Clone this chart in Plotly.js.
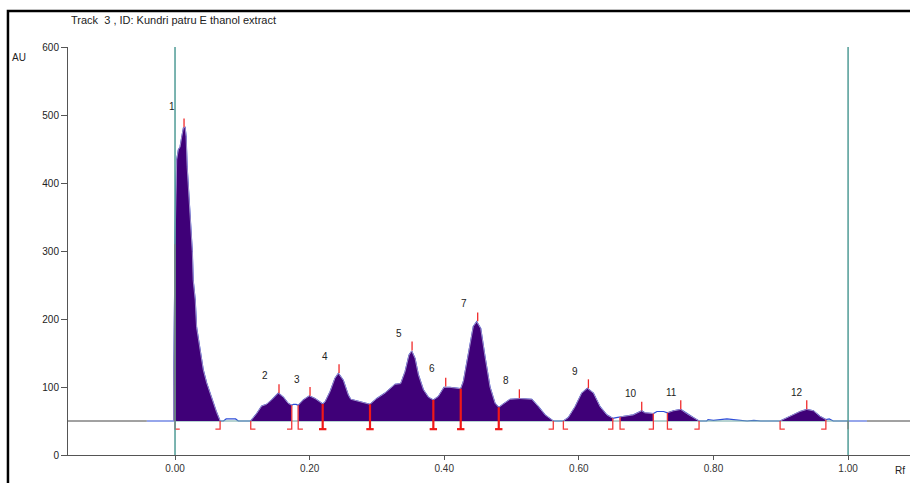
<!DOCTYPE html>
<html><head><meta charset="utf-8">
<script src="https://cdn.plot.ly/plotly-3.0.1.min.js"></script>
<style>html,body{margin:0;padding:0;background:#fff;} #chart{width:910px;height:483px;}</style>
</head><body><div id="chart"></div>
<script>
// ---- data ----
const baselineAU = 50;
const signalRf = [-0.042, -0.002, -0.002, 0.000, 0.001, 0.0025, 0.005, 0.0075, 0.010, 0.0125, 0.015, 0.0165, 0.018, 0.021, 0.023, 0.0257, 0.027, 0.030, 0.032, 0.035, 0.037, 0.042, 0.047, 0.052, 0.057, 0.062, 0.067,
  0.072, 0.076, 0.090, 0.094, 0.1125,
  0.1214, 0.1288, 0.136, 0.1436, 0.1535, 0.161, 0.168, 0.1734,
  0.176, 0.180, 0.183,
  0.1906, 0.1996, 0.208, 0.2155, 0.2194,
  0.2229, 0.2303, 0.2377, 0.2427, 0.250, 0.2575, 0.261, 0.275, 0.2897,
  0.2997, 0.312, 0.327, 0.3353, 0.3418, 0.3477, 0.3517, 0.3566, 0.3616, 0.369, 0.3764, 0.3838,
  0.3912, 0.3997, 0.4086, 0.4245,
  0.4284, 0.4358, 0.4432, 0.4482, 0.4542, 0.4606, 0.468, 0.4755, 0.481,
  0.4878, 0.4978, 0.5126, 0.530, 0.540, 0.5498, 0.562,
  0.577,
  0.5844, 0.5944, 0.6043, 0.6127, 0.6216, 0.6315, 0.6415, 0.6504,
  0.6555, 0.6612,
  0.681, 0.691, 0.6934, 0.698, 0.7107,
  0.716, 0.726, 0.7316,
  0.7405, 0.7514, 0.760, 0.770, 0.7786,
  0.790, 0.792, 0.800, 0.810, 0.820, 0.830, 0.840, 0.850, 0.860, 0.870, 0.899,
  0.9138, 0.9287, 0.9386, 0.9485, 0.958, 0.967,
  0.972, 0.978, 1.028];
const signalAu = [50, 50, 103, 310, 390, 434, 449, 453, 468, 481, 482, 468, 424, 375, 331, 299, 257, 228, 188, 169, 150, 125, 106, 91, 76, 62, 50,
  50, 53, 53, 50, 50,
  61, 72, 74.5, 81, 91, 85, 76, 73,
  74.5, 74.5, 73,
  81, 87, 83, 78, 75,
  78, 93, 113, 120, 110, 88, 82, 78, 74.5,
  83, 91, 104, 105, 122.5, 147, 153, 142, 118, 96, 85, 81,
  86, 99.5, 99.5, 97.5,
  108, 149.5, 189, 196, 186, 144.5, 100, 76, 70,
  75, 82, 83, 82, 71, 59, 50,
  50,
  55, 71, 91, 98, 91, 71, 59, 54,
  55, 56,
  59, 64, 65, 62, 61,
  64, 64, 62,
  65, 67, 61, 55, 50,
  50, 52, 51, 52, 53, 52, 51, 50, 51, 50, 50,
  57, 64, 67, 65, 57, 52,
  53, 50, 50];
// integrated (filled) ranges
const fillStart = [-0.002, 0.1125, 0.183, 0.577, 0.6612, 0.7316, 0.899];
const fillEnd   = [0.067, 0.1734, 0.562, 0.6504, 0.7107, 0.7786, 0.967];
// peaks
const peakNames = ['1','2','3','4','5','6','7','8','9','10','11','12'];
const peakRf = [0.0134, 0.1545, 0.2006, 0.2437, 0.3522, 0.4022, 0.4497, 0.5116, 0.6142, 0.6934, 0.7514, 0.9386];
const peakAu = [482, 91, 87, 120.5, 153.8, 100.7, 196.6, 83.6, 98.3, 65.4, 67.4, 67.4];
const labelRf = [-0.0045, 0.1337, 0.1813, 0.2229, 0.3328, 0.3819, 0.4294, 0.4918, 0.5944, 0.6776, 0.737, 0.9242];
const labelAu = [512, 116.5, 110.6, 144.5, 178.5, 126.8, 222.7, 109, 122.4, 90, 91.4, 91.4];
// peak boundaries: '[' start, ']' end, 'T' shared, '|' plain
const boundRf = [0.0, 0.067, 0.1125, 0.1734, 0.183, 0.2194, 0.2897, 0.3838, 0.4245, 0.481, 0.562, 0.577, 0.6504, 0.6612, 0.7107, 0.7316, 0.7786, 0.899, 0.967, 1.0];
const boundKind = ['[', ']', '[', ']', '[', 'T', 'T', 'T', 'T', 'T', ']', '[', ']', '[', ']', '[', ']', '[', ']', '|'];
const xTicks = [0, 0.2, 0.4, 0.6, 0.8, 1.0];
const yTicks = [0, 100, 200, 300, 400, 500, 600];

// ---- helpers ----
function interp(r) {
  for (let i = 0; i < signalRf.length - 1; i++) {
    if (r >= signalRf[i] && r <= signalRf[i + 1]) {
      const d = signalRf[i + 1] - signalRf[i];
      if (d === 0) return Math.max(signalAu[i], signalAu[i + 1]);
      return signalAu[i] + (signalAu[i + 1] - signalAu[i]) * (r - signalRf[i]) / d;
    }
  }
  return baselineAU;
}

const xRange = [-0.159, 1.092];
const FONT = 'Liberation Sans, Arial, sans-serif';
const traces = [];

// raw signal (blue)
traces.push({x: signalRf, y: signalAu, mode: 'lines', line: {color: '#2f4fd8', width: 1.2}, hoverinfo: 'skip', showlegend: false});
// baseline
traces.push({x: [xRange[0], signalRf[0], null, signalRf[signalRf.length - 1], xRange[1]],
  y: [baselineAU, baselineAU, null, baselineAU, baselineAU], mode: 'lines', line: {color: '#444', width: 1}, showlegend: false, hoverinfo: 'skip'});
traces.push({x: [0, 1], y: [baselineAU, baselineAU], mode: 'lines', line: {color: '#6fa8a3', width: 1.2}, showlegend: false, hoverinfo: 'skip'});

// filled peak areas
for (let k = 0; k < fillStart.length; k++) {
  const a = fillStart[k], b = fillEnd[k];
  const xs = [a], ys = [baselineAU];
  for (let i = 0; i < signalRf.length; i++) {
    if (signalRf[i] >= a && signalRf[i] <= b) { xs.push(signalRf[i]); ys.push(signalAu[i]); }
  }
  xs.push(b); ys.push(baselineAU);
  traces.push({x: xs, y: ys, mode: 'lines', fill: 'toself', fillcolor: '#3f0078',
    line: {color: '#9d8cc8', width: 1}, showlegend: false, hoverinfo: 'skip'});
}

// boundary markers
const footAu = 38;
const tX = [], tY = [], bX = [], bY = [];
for (let i = 0; i < boundRf.length; i++) {
  const r = boundRf[i], k = boundKind[i];
  const top = k === '|' ? baselineAU : interp(r);
  if (k === 'T') {
    tX.push(r, r, null, r - 0.0055, r + 0.0055, null);
    tY.push(top, footAu, null, footAu, footAu, null);
  } else if (k === '[') {
    bX.push(r, r, r + 0.007, null); bY.push(top, footAu, footAu, null);
  } else if (k === ']') {
    bX.push(r, r, r - 0.007, null); bY.push(top, footAu, footAu, null);
  } else {
    bX.push(r, r, null); bY.push(top, footAu, null);
  }
}
traces.push({x: bX, y: bY, mode: 'lines', line: {color: '#f23a3a', width: 1.3}, showlegend: false, hoverinfo: 'skip'});
traces.push({x: tX, y: tY, mode: 'lines', line: {color: '#f01818', width: 2.2}, showlegend: false, hoverinfo: 'skip'});

// peak maximum ticks
const pX = [], pY = [];
for (let i = 0; i < peakRf.length; i++) {
  pX.push(peakRf[i], peakRf[i], null);
  pY.push(peakAu[i], peakAu[i] + 13, null);
}
traces.push({x: pX, y: pY, mode: 'lines', line: {color: '#f02a2a', width: 1.3}, showlegend: false, hoverinfo: 'skip'});

const annotations = peakNames.map((t, i) => ({
  x: labelRf[i], y: labelAu[i], xref: 'x', yref: 'y', text: t, showarrow: false,
  xanchor: 'center', yanchor: 'middle', font: {family: FONT, size: 10, color: '#222'}
}));
annotations.push({x: 0.001, y: 1.066, xref: 'paper', yref: 'paper', text: 'Track  3 , ID: Kundri patru E thanol extract',
  showarrow: false, xanchor: 'left', yanchor: 'middle', font: {family: FONT, size: 11, color: '#222'}});
annotations.push({x: -0.069, y: 0.975, xref: 'paper', yref: 'paper', text: 'AU',
  showarrow: false, xanchor: 'left', yanchor: 'middle', font: {family: FONT, size: 10, color: '#222'}});
annotations.push({x: 0.996, y: -0.037, xref: 'paper', yref: 'paper', text: 'Rf',
  showarrow: false, xanchor: 'right', yanchor: 'middle', font: {family: FONT, size: 10, color: '#222'}});

const shapes = [
  {type: 'line', xref: 'x', yref: 'y', x0: 0, x1: 0, y0: 0, y1: 600, line: {color: '#4f9b96', width: 1.5}},
  {type: 'line', xref: 'x', yref: 'y', x0: 1, x1: 1, y0: 0, y1: 600, line: {color: '#4f9b96', width: 1.5}},
  {type: 'rect', xref: 'paper', yref: 'paper', x0: -0.0713, x1: 1.02, y0: -0.2, y1: 1.0882,
    line: {color: '#000', width: 2.5}, fillcolor: 'rgba(0,0,0,0)'}
];

const layout = {
  width: 910, height: 483,
  margin: {l: 68, r: 0, t: 47, b: 28},
  paper_bgcolor: '#fff', plot_bgcolor: '#fff',
  showlegend: false,
  xaxis: {range: xRange, tickvals: xTicks, ticktext: xTicks.map(v => v.toFixed(2)),
    showgrid: false, zeroline: false, showline: true, linecolor: '#555', linewidth: 1,
    ticks: 'outside', ticklen: 4, tickcolor: '#555', automargin: false,
    tickfont: {family: FONT, size: 10, color: '#333'}},
  yaxis: {range: [0, 600], tickvals: yTicks, showgrid: false, zeroline: false, showline: true,
    linecolor: '#555', linewidth: 1, ticks: 'outside', ticklen: 6, tickcolor: '#555', automargin: false,
    tickfont: {family: FONT, size: 10, color: '#222'}},
  annotations: annotations,
  shapes: shapes
};
Plotly.newPlot('chart', traces, layout, {displayModeBar: false, staticPlot: true});
</script></body></html>
